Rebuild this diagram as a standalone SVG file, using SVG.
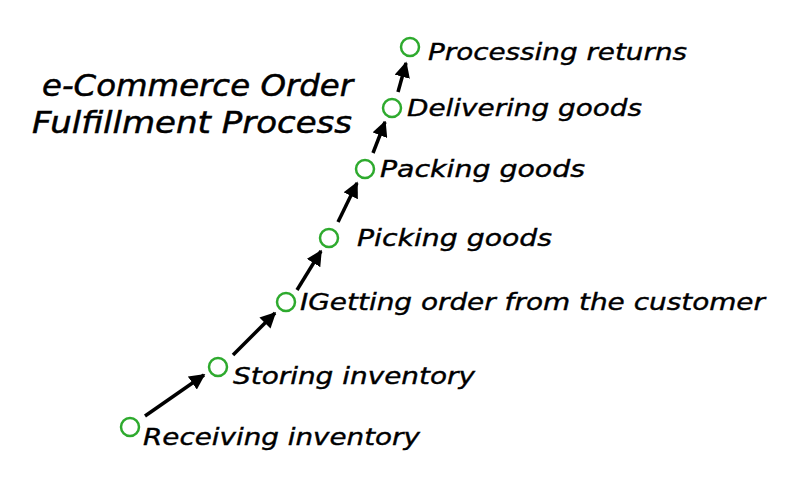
<svg xmlns="http://www.w3.org/2000/svg" width="800" height="484" viewBox="0 0 800 484">
<defs>
<marker id="ah" viewBox="0 0 10 10" refX="9" refY="5" markerWidth="4.5" markerHeight="4.5" orient="auto" markerUnits="strokeWidth">
<path d="M0,0 L10,5 L0,10 z" fill="#000"/>
</marker>
<style>
.n circle{fill:none;stroke:#2eaa2e;stroke-width:2.5}
.n text{font-family:"DejaVu Sans","Noto Sans",sans-serif;font-style:italic;font-size:23px;fill:#000;stroke:#000;stroke-width:0.4}
.t{font-family:"DejaVu Sans","Noto Sans",sans-serif;font-style:italic;font-size:30px;fill:#000;stroke:#000;stroke-width:0.5}
#connectors line{stroke:#000;stroke-width:3.5;marker-end:url(#ah)}
</style>
</defs>
<rect width="800" height="484" fill="#fff"/>
<g id="title">
<text class="t" x="42" y="96" textLength="311" lengthAdjust="spacingAndGlyphs">e-Commerce Order</text>
<text class="t" x="32" y="133" textLength="320" lengthAdjust="spacingAndGlyphs">Fulfillment Process</text>
</g>
<g id="connectors">
<line x1="145" y1="416" x2="204" y2="375"/>
<line x1="233" y1="355" x2="275" y2="313"/>
<line x1="297" y1="290" x2="321" y2="251"/>
<line x1="338" y1="222" x2="357" y2="183"/>
<line x1="373" y1="153" x2="385" y2="122"/>
<line x1="398" y1="92" x2="406" y2="63"/>
</g>
<g id="n1" class="n"><circle cx="130" cy="427" r="9"/><text x="143" y="445" textLength="277" lengthAdjust="spacingAndGlyphs">Receiving inventory</text></g>
<g id="n2" class="n"><circle cx="218" cy="367" r="9"/><text x="233" y="384" textLength="242" lengthAdjust="spacingAndGlyphs">Storing inventory</text></g>
<g id="n3" class="n"><circle cx="286" cy="302" r="9"/><text x="300" y="310" textLength="465" lengthAdjust="spacingAndGlyphs">IGetting order from the customer</text></g>
<g id="n4" class="n"><circle cx="329" cy="238" r="9"/><text x="357" y="246" textLength="195" lengthAdjust="spacingAndGlyphs">Picking goods</text></g>
<g id="n5" class="n"><circle cx="365" cy="169" r="9"/><text x="380" y="177" textLength="205" lengthAdjust="spacingAndGlyphs">Packing goods</text></g>
<g id="n6" class="n"><circle cx="392" cy="108" r="9"/><text x="407" y="116" textLength="235" lengthAdjust="spacingAndGlyphs">Delivering goods</text></g>
<g id="n7" class="n"><circle cx="410" cy="47" r="9"/><text x="428" y="60" textLength="259" lengthAdjust="spacingAndGlyphs">Processing returns</text></g>
</svg>
